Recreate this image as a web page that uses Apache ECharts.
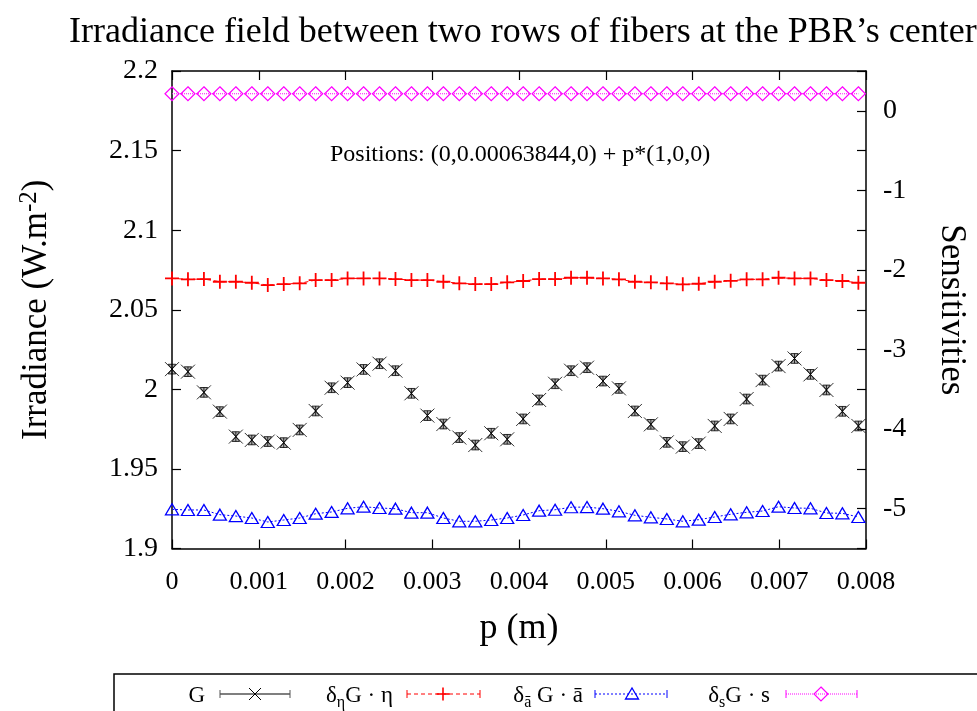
<!DOCTYPE html>
<html><head><meta charset="utf-8">
<script src="https://cdn.jsdelivr.net/npm/echarts@6/dist/echarts.min.js"></script>
<style>html,body{margin:0;padding:0;background:#fff}#c{width:977px;height:711px}</style>
</head><body><div id="c"></div>
<script>
// ---- data ----
const pValues = [0, 0.000184, 0.000368, 0.000552, 0.000736, 0.00092, 0.001104, 0.001288, 0.001472, 0.001656,
  0.00184, 0.002024, 0.002208, 0.002392, 0.002576, 0.00276, 0.002944, 0.003128, 0.003312, 0.003496,
  0.00368, 0.003864, 0.004048, 0.004232, 0.004416, 0.0046, 0.004784, 0.004968, 0.005152, 0.005336,
  0.00552, 0.005704, 0.005888, 0.006072, 0.006256, 0.00644, 0.006624, 0.006808, 0.006992, 0.007176,
  0.00736, 0.007544, 0.007728, 0.007912];
const gValues = [2.0127, 2.0111, 1.9981, 1.9860, 1.9703, 1.9682, 1.9672, 1.9665, 1.9745, 1.9864,
  2.0010, 2.0042, 2.0125, 2.0161, 2.0117, 1.9975, 1.9835, 1.9782, 1.9697, 1.9650,
  1.9724, 1.9686, 1.9814, 1.9933, 2.0035, 2.0117, 2.0136, 2.0052, 2.0006, 1.9864,
  1.9780, 1.9667, 1.9640, 1.9659, 1.9770, 1.9814, 1.9939, 2.0058, 2.0146, 2.0194,
  2.0094, 1.9996, 1.9862, 1.9770];
const etaSens = [-2.106, -2.118, -2.114, -2.148, -2.148, -2.161, -2.190, -2.177, -2.168, -2.127,
  -2.127, -2.106, -2.106, -2.106, -2.114, -2.127, -2.127, -2.148, -2.168, -2.177,
  -2.177, -2.156, -2.139, -2.114, -2.114, -2.098, -2.098, -2.106, -2.118, -2.148,
  -2.156, -2.168, -2.181, -2.173, -2.148, -2.136, -2.118, -2.118, -2.098, -2.106,
  -2.106, -2.127, -2.139, -2.161];
const abarSens = [-5.008, -5.016, -5.016, -5.075, -5.092, -5.117, -5.167, -5.142, -5.117, -5.063,
  -5.041, -4.995, -4.975, -4.991, -5.000, -5.050, -5.050, -5.117, -5.158, -5.158,
  -5.142, -5.117, -5.079, -5.025, -5.013, -4.982, -4.979, -5.000, -5.033, -5.083,
  -5.108, -5.129, -5.158, -5.138, -5.104, -5.070, -5.045, -5.029, -4.975, -4.991,
  -4.995, -5.054, -5.058, -5.104];
const sSens = [0.214, 0.214, 0.214, 0.214, 0.214, 0.214, 0.214, 0.214, 0.214, 0.214,
  0.214, 0.214, 0.214, 0.214, 0.214, 0.214, 0.214, 0.214, 0.214, 0.214,
  0.214, 0.214, 0.214, 0.214, 0.214, 0.214, 0.214, 0.214, 0.214, 0.214,
  0.214, 0.214, 0.214, 0.214, 0.214, 0.214, 0.214, 0.214, 0.214, 0.214,
  0.214, 0.214, 0.214, 0.214];
const xRange = [0, 0.008, 0.001];
const yRange = [1.9, 2.2, 0.05];
const y2Range = [-5.5, 0.5, 0.5];
const titleText = 'Irradiance field between two rows of fibers at the PBR\u2019s center';
const noteText = 'Positions: (0,0.00063844,0) + p*(1,0,0)';
const seriesNames = ['G', '\u03b4\u03b7G \u00b7 \u03b7', '\u03b4\u0101 G \u00b7 \u0101', '\u03b4sG \u00b7 s'];

// ---- chart ----
const FONT = '"Liberation Serif", "Times New Roman", serif';
const zip = (xs, ys) => xs.map((x, i) => [x, ys[i]]);
const HOURGLASS = 'path://M0,0L13,13M13,0L0,13M3,2L10,2L6.5,6.5ZM3,11L10,11L6.5,6.5ZM6.5,2L6.5,11';
const PLUS = 'path://M0,6.5L13,6.5M6.5,0L6.5,13';
const TRI = 'path://M6.5,0L13,11L0,11Z';
const DIAM = 'path://M7,0L14,7L7,14L0,7Z';

const axisBase = {
  axisLine: { show: true, onZero: false, lineStyle: { color: '#000', width: 1.5 } },
  axisTick: { show: true, inside: true, length: 9, lineStyle: { color: '#000', width: 1.2 } },
  splitLine: { show: false }
};

const chart = echarts.init(document.getElementById('c'), null, { renderer: 'canvas' });

const legendY = 694;
function capLines(x0, x1, color) {
  return [
    { type: 'line', shape: { x1: x0, y1: legendY - 4, x2: x0, y2: legendY + 4 }, style: { stroke: color, lineWidth: 1 } },
    { type: 'line', shape: { x1: x1, y1: legendY - 4, x2: x1, y2: legendY + 4 }, style: { stroke: color, lineWidth: 1 } }
  ];
}
const richLegend = {
  m: { fontFamily: FONT, fontSize: 23, lineHeight: 30, color: '#000', verticalAlign: 'middle' },
  s: { fontFamily: FONT, fontSize: 16, lineHeight: 16, color: '#000', verticalAlign: 'bottom' }
};
function legendText(x, txt) {
  return { type: 'text', x: x, y: legendY + 2, style: { text: txt, align: 'right', verticalAlign: 'middle', rich: richLegend, fontFamily: FONT, fontSize: 23, fill: '#000' } };
}
const graphics = [
  { type: 'rect', shape: { x: 114, y: 674, width: 900, height: 80 }, style: { fill: 'none', stroke: '#000', lineWidth: 1.5 } },
  { type: 'text', x: 330, y: 155, style: { text: noteText, fontFamily: FONT, fontSize: 24, fill: '#000', verticalAlign: 'middle', align: 'left' } },
  // G
  legendText(205, '{m|' + seriesNames[0] + '}'),
  { type: 'line', shape: { x1: 220, y1: legendY, x2: 290, y2: legendY }, style: { stroke: '#555', lineWidth: 1.5 } },
  ...capLines(220, 290, '#555'),
  { type: 'line', shape: { x1: 249, y1: legendY - 6, x2: 261, y2: legendY + 6 }, style: { stroke: '#000', lineWidth: 1 } },
  { type: 'line', shape: { x1: 261, y1: legendY - 6, x2: 249, y2: legendY + 6 }, style: { stroke: '#000', lineWidth: 1 } },
  // eta
  legendText(393, '{m|\u03b4}{s|\u03b7}{m|G \u00b7 \u03b7}'),
  { type: 'line', shape: { x1: 407, y1: legendY, x2: 480, y2: legendY }, style: { stroke: '#ff0000', lineWidth: 1, lineDash: [4, 3] } },
  ...capLines(407, 480, '#ff0000'),
  { type: 'line', shape: { x1: 436.5, y1: legendY, x2: 449.5, y2: legendY }, style: { stroke: '#ff0000', lineWidth: 1.6 } },
  { type: 'line', shape: { x1: 443, y1: legendY - 6.5, x2: 443, y2: legendY + 6.5 }, style: { stroke: '#ff0000', lineWidth: 1.6 } },
  // abar
  legendText(583, '{m|\u03b4}{s|\u0101}{m| G \u00b7 \u0101}'),
  { type: 'line', shape: { x1: 595, y1: legendY, x2: 667, y2: legendY }, style: { stroke: '#0000ff', lineWidth: 1, lineDash: [2, 2] } },
  ...capLines(595, 667, '#0000ff'),
  { type: 'polygon', shape: { points: [[625.5, legendY + 5], [638.5, legendY + 5], [632, legendY - 6]] }, style: { fill: 'none', stroke: '#0000ff', lineWidth: 1.3 } },
  // s
  legendText(770, '{m|\u03b4}{s|s}{m|G \u00b7 s}'),
  { type: 'line', shape: { x1: 786, y1: legendY, x2: 857, y2: legendY }, style: { stroke: '#ff00ff', lineWidth: 1, lineDash: [1, 1] } },
  ...capLines(786, 857, '#ff00ff'),
  { type: 'polygon', shape: { points: [[821, legendY - 7], [828, legendY], [821, legendY + 7], [814, legendY]] }, style: { fill: 'none', stroke: '#ff00ff', lineWidth: 1.2 } }
];

chart.setOption({
  animation: false,
  backgroundColor: '#fff',
  title: {
    text: titleText, left: 64, top: 10,
    textStyle: { fontFamily: FONT, fontSize: 36, fontWeight: 'normal', color: '#000' }
  },
  grid: { left: 172, top: 71, width: 694.5, height: 477.5, containLabel: false },
  xAxis: [
    Object.assign({}, axisBase, {
      type: 'value', position: 'bottom', min: xRange[0], max: xRange[1], interval: xRange[2],
      axisLabel: { fontFamily: FONT, fontSize: 26, color: '#000', margin: 21 },
      name: 'p (m)', nameLocation: 'middle', nameGap: 62,
      nameTextStyle: { fontFamily: FONT, fontSize: 36, color: '#000' }
    }),
    Object.assign({}, axisBase, {
      type: 'value', position: 'top', min: xRange[0], max: xRange[1], interval: xRange[2],
      axisLabel: { show: false }
    })
  ],
  yAxis: [
    Object.assign({}, axisBase, {
      type: 'value', position: 'left', min: yRange[0], max: yRange[1], interval: yRange[2],
      axisLabel: { fontFamily: FONT, fontSize: 28, color: '#000', margin: 14 },
      name: '{m|Irradiance (W.m}{s|-2}{m|)}', nameLocation: 'middle', nameGap: 115, nameRotate: 90,
      nameTextStyle: {
        fontFamily: FONT, fontSize: 35, color: '#000',
        rich: {
          m: { fontFamily: FONT, fontSize: 35, lineHeight: 40, color: '#000', verticalAlign: 'middle' },
          s: { fontFamily: FONT, fontSize: 25, lineHeight: 10, color: '#000', verticalAlign: 'top' }
        }
      }
    }),
    Object.assign({}, axisBase, {
      type: 'value', position: 'right', min: y2Range[0], max: y2Range[1], interval: y2Range[2],
      axisLabel: {
        fontFamily: FONT, fontSize: 28, color: '#000', margin: 17,
        formatter: v => (Math.abs(v - Math.round(v)) < 1e-9 ? String(Math.round(v)) : '')
      },
      name: 'Sensitivities', nameLocation: 'middle', nameGap: 68, nameRotate: -90,
      nameTextStyle: { fontFamily: FONT, fontSize: 35, color: '#000' }
    })
  ],
  series: [
    {
      name: seriesNames[0], type: 'scatter', xAxisIndex: 0, yAxisIndex: 0,
      data: zip(pValues, gValues), symbol: HOURGLASS, symbolSize: 14,
      itemStyle: { color: 'rgba(80,80,80,0.55)', borderColor: '#000', borderWidth: 1 },
      emphasis: { disabled: true }
    },
    {
      name: seriesNames[1], type: 'line', xAxisIndex: 0, yAxisIndex: 1,
      data: zip(pValues, etaSens), symbol: PLUS, symbolSize: 14, showSymbol: true,
      itemStyle: { color: 'rgba(0,0,0,0)', borderColor: '#ff0000', borderWidth: 1.8 },
      lineStyle: { color: '#ff0000', width: 1, type: [4, 3] },
      emphasis: { disabled: true }
    },
    {
      name: seriesNames[2], type: 'line', xAxisIndex: 0, yAxisIndex: 1,
      data: zip(pValues, abarSens), symbol: TRI, symbolSize: [13, 11], showSymbol: true,
      itemStyle: { color: 'rgba(0,0,0,0)', borderColor: '#0000ff', borderWidth: 1.3 },
      lineStyle: { color: '#0000ff', width: 1, type: [2, 2] },
      emphasis: { disabled: true }
    },
    {
      name: seriesNames[3], type: 'line', xAxisIndex: 0, yAxisIndex: 1,
      data: zip(pValues, sSens), symbol: DIAM, symbolSize: 14, showSymbol: true,
      itemStyle: { color: 'rgba(0,0,0,0)', borderColor: '#ff00ff', borderWidth: 1.2 },
      lineStyle: { color: '#ff00ff', width: 1, type: [1, 1] },
      emphasis: { disabled: true }
    }
  ],
  graphic: { elements: graphics }
});
</script>
</body></html>
